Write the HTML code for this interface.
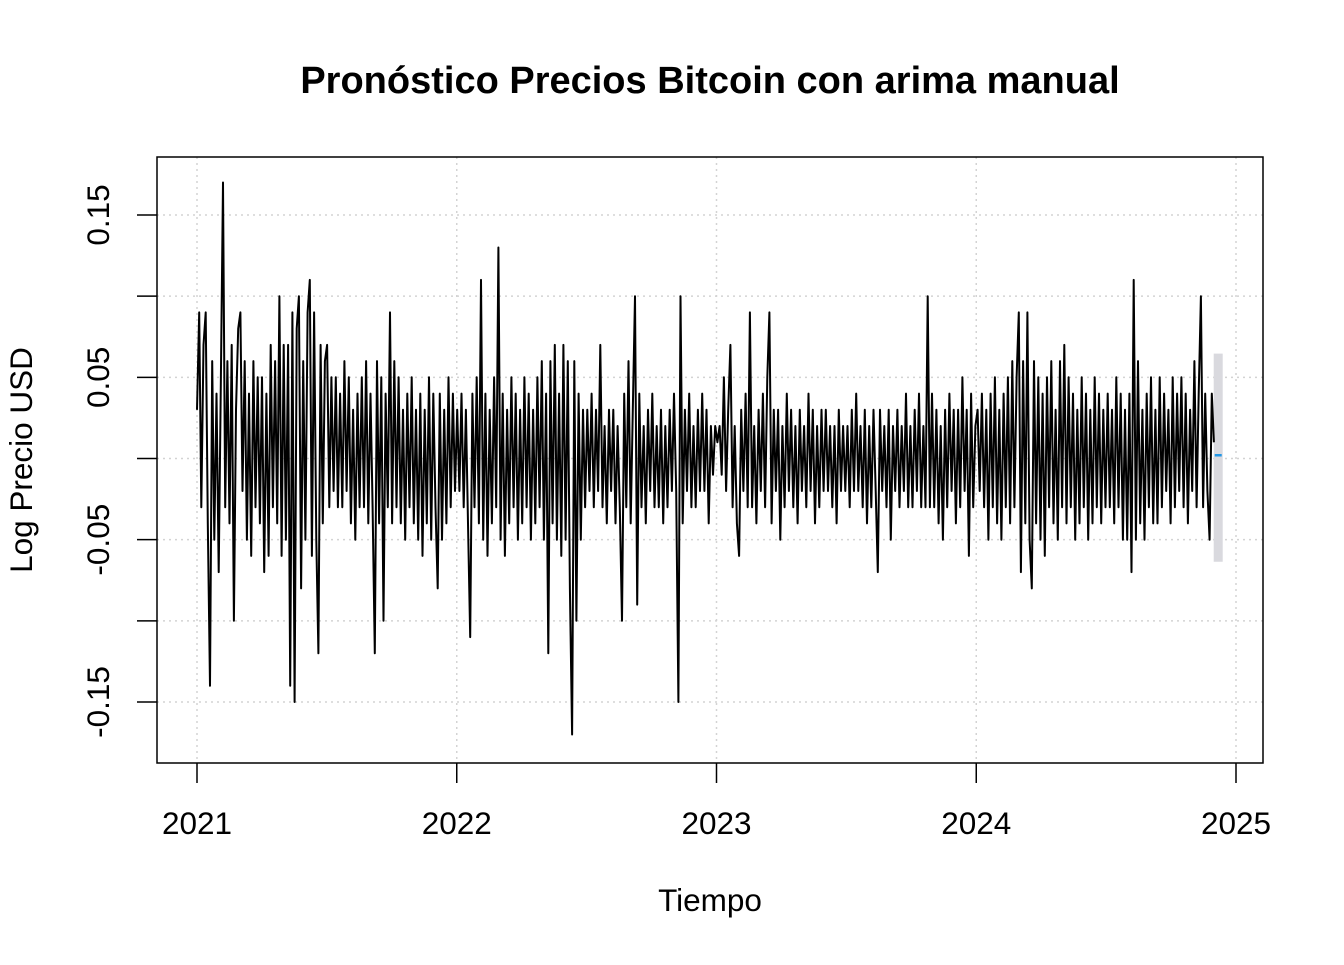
<!DOCTYPE html>
<html><head><meta charset="utf-8"><style>
html,body{margin:0;padding:0;background:#fff;}
svg text{font-family:"Liberation Sans",Arial,sans-serif;fill:#000;}
</style></head><body>
<svg id="chart" width="1344" height="960" viewBox="0 0 1344 960">
<text x="710" y="93" font-size="38" font-weight="bold" text-anchor="middle">Pronóstico Precios Bitcoin con arima manual</text>
<text x="710" y="911" font-size="31.5" text-anchor="middle">Tiempo</text>
<text x="0" y="0" font-size="31.5" text-anchor="middle" transform="translate(32,460) rotate(-90)">Log Precio USD</text>
<g id="grid"></g>
<g id="band"></g>
<g id="series"></g>
<g id="axes"></g>
<rect x="157" y="157" width="1106" height="606" fill="none" stroke="#000" stroke-width="1.5"/>
</svg>
<script>
const xTicks=[2021,2022,2023,2024,2025];
const yTicks=[-0.15,-0.1,-0.05,0,0.05,0.1,0.15];
const yLabels=[-0.15,-0.05,0.05,0.15];
const startYear=2021.0, endYear=2024.915;
// log returns in hundredths (percent)
const returnsPct=[
3,9,-3,7,9,-4,-14,6,-5,4, -7,5,17,-3,6,-4,7,-10,3,8, 9,-2,6,-5,4,-6,6,-3,5,-4, 5,-7,4,-6,7,-3,6,-4,10,-6, 7,-5,7,-14,9,-15,8,10,-8,6, -5,9,11,-6,9,-5,-12,7,-4,6,
7,-3,5,-2,5,-3,4,-3,6,-2, 5,-4,3,-5,4,-3,5,-3,6,-4, 4,-3,-12,6,-4,5,-10,4,-3,9, -4,6,-3,5,-4,3,-5,4,-3,5, -4,3,-5,4,-6,3,-4,5,-5,4, -3,-8,4,-5,3,-4,5,-3,4,-2,
3,-2,4,-3,3,-4,-11,4,-3,5, -4,11,-5,4,-6,3,-4,5,-3,13, -5,4,-6,3,-4,5,-3,4,-5,3, -4,5,-3,4,-5,3,-4,5,-3,6, -5,4,-12,6,-4,7,-5,4,-6,7, -5,6,-8,-17,6,-10,4,-5,3,-3,
3,-2,4,-3,3,-2,7,-3,2,-4, 3,-2,3,-4,2,-3,-10,4,-3,6, -4,3,10,-9,4,-3,2,-4,3,-2, 4,-3,2,-3,3,-4,2,-3,3,-2, 4,-2,-15,10,-4,3,-2,4,-3,2, -3,3,-2,4,-2,3,-4,2,-1,2,
1,2,-1,5,-2,3,7,-3,2,-4, -6,3,-2,4,-3,9,-3,2,-4,3, -2,4,-3,5,9,-4,3,-2,3,-5, 2,-3,4,-2,3,-3,2,-4,3,-2, 2,-3,4,-2,3,-4,2,-3,3,-2, 3,-2,2,-3,2,-4,3,-2,2,-2,
2,-3,3,-2,4,-2,2,-3,3,-4, 2,-3,3,-2,-7,3,-2,2,-3,3, -5,2,-2,3,-3,2,-2,4,-3,2, -3,3,-2,4,-3,2,-3,10,-3,4, -3,3,-4,2,-5,3,-3,4,-2,3, -4,3,-3,5,-2,3,-6,4,-3,2,
3,-2,4,-3,3,-5,4,-3,5,-4, 3,-5,4,-3,5,-4,6,-3,5,9, -7,6,-4,9,-5,-8,6,-4,5,-5, 4,-6,5,-3,6,-4,3,-5,6,-3, 7,-4,5,-3,4,-5,3,-4,5,-3, 4,-5,3,-4,5,-3,4,-4,3,-3,
4,-3,3,-4,5,-3,4,-5,3,-5, 4,-7,11,-5,6,-4,3,-5,4,-3, 5,-4,3,-4,5,-3,4,-2,3,-4, 5,-3,4,-2,5,-3,4,-4,3,-2, 6,-3,4,10,-3,4,-2,-5,4,1];
const fcTimes=[2024.918,2024.945];
const fcMean=[0.002,0.002];
const fcUpper=[0.064,0.064];
const fcLower=[-0.063,-0.063];

const X=t=>197+(t-2021)*259.75;
const Y=v=>458.5-v*1623.3;
const NS="http://www.w3.org/2000/svg";
function mk(tag,attrs,parent){const e=document.createElementNS(NS,tag);for(const k in attrs)e.setAttribute(k,attrs[k]);parent.appendChild(e);return e;}
const grid=document.getElementById('grid'),axes=document.getElementById('axes'),series=document.getElementById('series'),band=document.getElementById('band');
xTicks.forEach(t=>{
  const g=mk('line',{x1:X(t),x2:X(t),y1:157,y2:763,stroke:'#d3d3d3','stroke-width':1.5,'stroke-dasharray':'2,4'},grid);
  
  
  const tk=mk('line',{x1:X(t),x2:X(t),y1:763,y2:783,stroke:'#000','stroke-width':1.5},axes);
  
  
  const tx=mk('text',{x:X(t),y:834,'font-size':31.5,'text-anchor':'middle'},axes);
  tx.textContent=t;
  
  
});
yTicks.forEach(v=>{
  const g=mk('line',{x1:157,x2:1263,y1:Y(v),y2:Y(v),stroke:'#d3d3d3','stroke-width':1.5,'stroke-dasharray':'2,4'},grid);
  
  
  const tk=mk('line',{x1:137,x2:157,y1:Y(v),y2:Y(v),stroke:'#000','stroke-width':1.5},axes);
  
  
});
yLabels.forEach(v=>{
  const tx=mk('text',{x:0,y:0,'font-size':31.5,'text-anchor':'middle',transform:`translate(109,${Y(v)}) rotate(-90)`},axes);
  tx.textContent=v.toFixed(2);
  
  
});
const returns=returnsPct.map(v=>v/100);
const dt=(endYear-startYear)/(returns.length-1);
const pts=returns.map((v,i)=>X(startYear+i*dt).toFixed(1)+','+Y(v).toFixed(1)).join(' ');
const pl=mk('polyline',{points:pts,fill:'none',stroke:'#000','stroke-width':2,'stroke-linejoin':'round'},series);


let bp=fcTimes.map((t,i)=>X(t)+','+Y(fcUpper[i])).join(' ')+' '+fcTimes.slice().reverse().map((t,j)=>X(t)+','+Y(fcLower[fcTimes.length-1-j])).join(' ');
const poly=mk('polygon',{points:bp,fill:'#d9d9de',stroke:'#d9d9de','stroke-width':2},band);


const fl=mk('polyline',{points:fcTimes.map((t,i)=>X(t)+','+Y(fcMean[i])).join(' '),fill:'none',stroke:'#2297e6','stroke-width':2.5},series);


</script>
</body></html>
